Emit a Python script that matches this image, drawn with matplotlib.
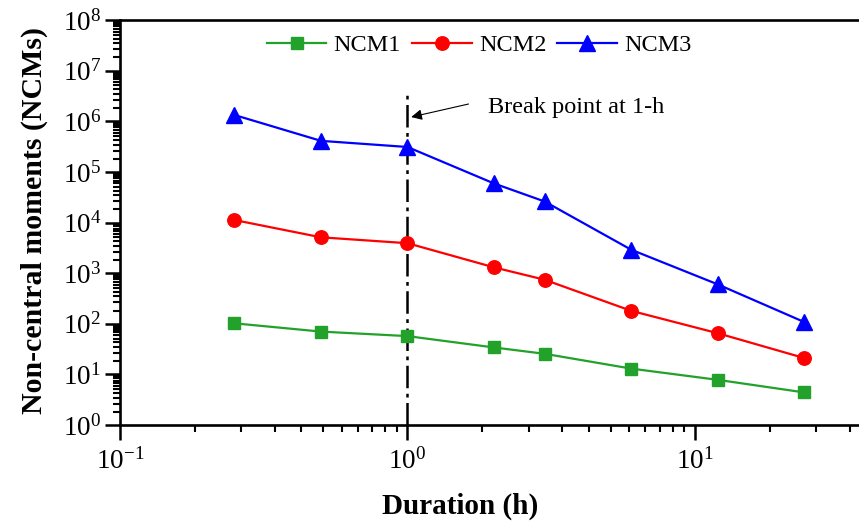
import numpy as np
import matplotlib
matplotlib.use("Agg")
import matplotlib.pyplot as plt
from matplotlib.ticker import FixedLocator, LogFormatterMathtext, NullFormatter

plt.rcParams['font.family'] = ['Liberation Serif', 'DejaVu Serif']
plt.rcParams['mathtext.fontset'] = 'custom'
plt.rcParams['mathtext.rm'] = 'Liberation Serif'
plt.rcParams['mathtext.it'] = 'Liberation Serif:italic'
plt.rcParams['mathtext.bf'] = 'Liberation Serif:bold'

# Duration (h) and non-central moments of order 1-3
duration = [0.25, 0.5, 1, 2, 3, 6, 12, 24]
ncm1 = [102, 70, 57, 34, 25.5, 13, 7.8, 4.4]
ncm2 = [11200, 5100, 3900, 1300, 740, 180, 65, 21]
ncm3 = [1.33e6, 4.1e5, 3.1e5, 5.9e4, 2.6e4, 2.9e3, 600, 108]
series_names = ['NCM1', 'NCM2', 'NCM3']

break_x = 1.0
break_top = 3.3e6
note_text = 'Break point at 1-h'

fig = plt.figure(figsize=(8.59, 5.26), dpi=100)
ax = fig.add_axes([120 / 859, 1 - 425 / 526, 739 / 859, 405 / 526])

green = '#22a22a'
ax.plot(duration, ncm1, color=green, lw=1.6, marker='s', ms=8.7,
        mfc=green, mec=green, label=series_names[0], zorder=3)
ax.plot(duration, ncm2, color='#ff0000', lw=1.6, marker='o', ms=9.7,
        mfc='#ff0000', mec='#ff0000', label=series_names[1], zorder=3)
ax.plot(duration, ncm3, color='#0000ff', lw=1.6, marker='^', ms=12,
        mfc='#0000ff', mec='#0000ff', label=series_names[2], zorder=3)

# vertical break line at 1 h
ax.plot([break_x, break_x], [1, break_top], color='k', lw=1.8,
        dashes=(9, 2.2, 1.5, 2.2), zorder=2)

ax.annotate('', xy=(1.03, 1.21e6), xytext=(1.63, 2.19e6),
            arrowprops=dict(arrowstyle='-|>', color='k', lw=0.8,
                            shrinkA=0, shrinkB=0, mutation_scale=16))
ax.text(1.91, 1.9e6, note_text, fontsize=17.5, ha='left', va='center')

ax.set_xscale('log')
ax.set_yscale('log')
ax.set_xlim(0.1, 37.2)
ax.set_ylim(1, 1e8)

# major ticks at decades, ten evenly spaced minor ticks inside each decade
ax.xaxis.set_major_locator(FixedLocator([0.1, 1, 10]))
ax.yaxis.set_major_locator(FixedLocator([10.0 ** k for k in range(0, 9)]))
xminor = [10.0 ** k * (1 + 9 * j / 11) for k in range(-1, 2) for j in range(1, 11)]
yminor = [10.0 ** k * (1 + 9 * j / 11) for k in range(0, 8) for j in range(1, 11)]
ax.xaxis.set_minor_locator(FixedLocator(xminor))
ax.yaxis.set_minor_locator(FixedLocator(yminor))
ax.xaxis.set_major_formatter(LogFormatterMathtext())
ax.yaxis.set_major_formatter(LogFormatterMathtext())
ax.xaxis.set_minor_formatter(NullFormatter())
ax.yaxis.set_minor_formatter(NullFormatter())

ax.tick_params(which='major', direction='out', length=10.5, width=1.8,
               labelsize=19.5, top=False, right=False)
ax.tick_params(which='minor', direction='out', length=5.2, width=1.5,
               top=False, right=False)
ax.tick_params(axis='x', which='major', pad=6)
ax.tick_params(axis='y', which='major', pad=3)

for side in ['left', 'bottom', 'top']:
    ax.spines[side].set_linewidth(1.9)
ax.spines['right'].set_visible(False)

ax.set_xlabel('Duration (h)', fontsize=21, fontweight='bold')
ax.set_ylabel('Non-central moments (NCMs)', fontsize=21.5, fontweight='bold')
ax.xaxis.set_label_coords(0.46, -0.168)
ax.yaxis.set_label_coords(-0.097, 0.506)

ax.legend(loc='center', bbox_to_anchor=(0.486, 0.938), ncol=3, frameon=False,
          fontsize=17.5, handlelength=2.45, handletextpad=0.3,
          columnspacing=0.45, borderaxespad=0)

fig.savefig('out.png', dpi=100)
